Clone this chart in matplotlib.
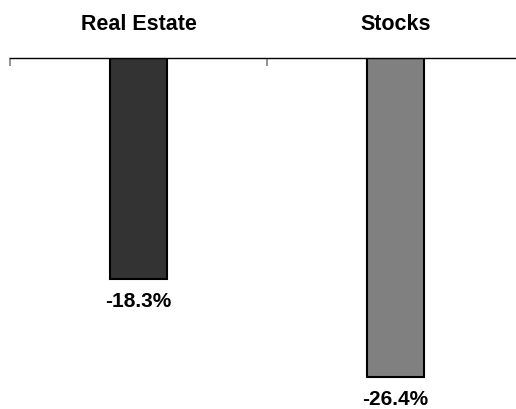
import matplotlib.pyplot as plt
import numpy as np

plt.rcParams['font.family'] = ['Liberation Sans', 'DejaVu Sans']

categories = ['Real Estate', 'Stocks']
values = [-18.3, -26.4]
labels = ['-18.3%', '-26.4%']
colors = ['#333333', '#808080']

W, H = 516, 409
fig = plt.figure(figsize=(W / 100, H / 100), dpi=100)
# axis line at top (y=57.5 px), category slots 10..524 px
top_px, bot_px = 57.5, 400
ax = fig.add_axes([10 / W, 1 - bot_px / H, 514 / W, (bot_px - top_px) / H])

x = np.arange(len(categories)) + 0.5
ax.bar(x, values, width=0.222, color=colors, edgecolor='black', linewidth=1.5)

px_per_unit = 12.1
ax.set_xlim(0, 2)
ax.set_ylim(-(bot_px - top_px) / px_per_unit, 0)

for s in ['left', 'right', 'bottom']:
    ax.spines[s].set_visible(False)
ax.spines['top'].set_color('black')
ax.spines['top'].set_linewidth(1.0)
ax.set_yticks([])
ax.xaxis.tick_top()
ax.set_xticks([0, 1, 2])
ax.set_xticklabels([])
ax.tick_params(axis='x', direction='in', length=5.5, width=1.2, color='#808080')

# category names above the axis line
for xi, name in zip(x, categories):
    ax.annotate(name, xy=(xi, 1.0), xycoords=('data', 'axes fraction'),
                xytext=(0, 24), textcoords='offset points',
                ha='center', va='center', fontsize=15.5, fontweight='bold')

# value labels under each bar
for xi, v, lab in zip(x, values, labels):
    ax.annotate(lab, xy=(xi, v), xytext=(0, -16.5), textcoords='offset points',
                ha='center', va='center', fontsize=15, fontweight='bold')

fig.savefig('out.png', dpi=100)
